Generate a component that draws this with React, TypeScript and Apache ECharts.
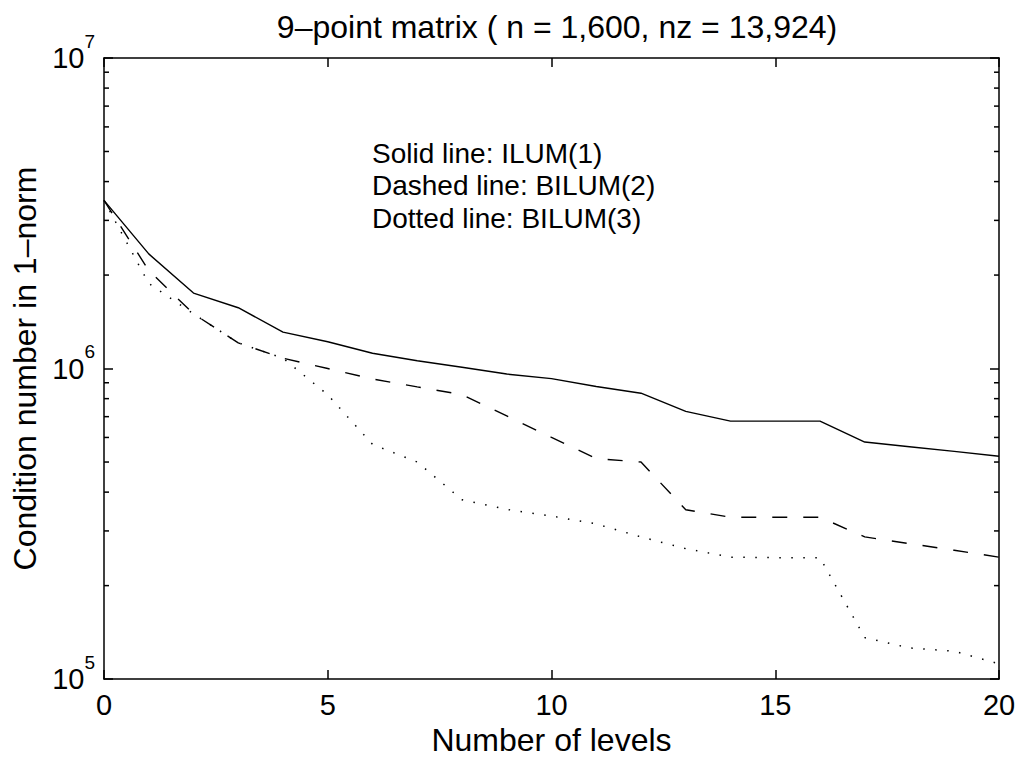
import React, { useEffect, useRef } from "react";
import * as echarts from "echarts";

const levels = [0, 1, 2, 3, 4, 5, 6, 7, 8, 9, 10, 11, 12, 13, 14, 15, 16, 17, 18, 19, 20];
const ilum1 = [3.48e6, 2.34e6, 1.75e6, 1.57e6, 1.31e6, 1.22e6, 1.12e6, 1.06e6, 1.01e6, 9.6e5, 9.28e5, 8.75e5, 8.33e5, 7.28e5, 6.77e5, 6.77e5, 6.77e5, 5.8e5, 5.6e5, 5.41e5, 5.22e5];
const bilum2 = [3.48e6, 2.07e6, 1.5e6, 1.21e6, 1.08e6, 1.0e6, 9.26e5, 8.73e5, 8.24e5, 7.04e5, 6.0e5, 5.13e5, 5.0e5, 3.51e5, 3.32e5, 3.32e5, 3.32e5, 2.87e5, 2.73e5, 2.6e5, 2.47e5];
const bilum3 = [3.48e6, 1.88e6, 1.5e6, 1.21e6, 1.08e6, 8.23e5, 5.7e5, 5.0e5, 3.78e5, 3.52e5, 3.35e5, 3.16e5, 2.87e5, 2.63e5, 2.47e5, 2.46e5, 2.46e5, 1.36e5, 1.26e5, 1.23e5, 1.12e5];
const minorTickValues = [2e5, 3e5, 4e5, 5e5, 6e5, 7e5, 8e5, 9e5, 2e6, 3e6, 4e6, 5e6, 6e6, 7e6, 8e6, 9e6];
const xMin = 0;
const xMax = 20;
const xInterval = 5;
const yMin = 1e5;
const yMax = 1e7;
const titleText = "9\u2013point matrix ( n = 1,600, nz = 13,924)";
const xName = "Number of levels";
const yName = "Condition number in 1\u2013norm";
const notes = ["Solid line: ILUM(1)", "Dashed line: BILUM(2)", "Dotted line: BILUM(3)"];

const FONT = "'Liberation Sans', Arial, Helvetica, sans-serif";
const FS_TICK = 29;
const FS_LABEL = 32;
const FS_NOTE = 28;

export default function App() {
  const ref = useRef<HTMLDivElement>(null);
  useEffect(() => {
    if (!ref.current) return;
    const chart = echarts.init(ref.current, null, { renderer: "svg" });
    const axisLine = { show: true, onZero: false, lineStyle: { color: "#000", width: 1.5 } };
    const tick = { show: true, inside: true, length: 9, lineStyle: { color: "#000", width: 1.5 } };
    const option: any = {
      animation: false,
      backgroundColor: "#fff",
      textStyle: { fontFamily: FONT, color: "#000" },
      title: {
        text: titleText,
        left: 552,
        top: 6,
        textAlign: "center",
        textStyle: { fontFamily: FONT, fontSize: FS_LABEL, fontWeight: "normal", color: "#000" },
      },
      grid: { left: 104, right: 21, top: 58, bottom: 75, show: false },
      xAxis: [
        {
          type: "value",
          position: "bottom",
          min: xMin,
          max: xMax,
          interval: xInterval,
          axisLine,
          axisTick: tick,
          splitLine: { show: false },
          axisLabel: { color: "#000", fontSize: FS_TICK, fontFamily: FONT, margin: 11 },
          name: xName,
          nameLocation: "middle",
          nameGap: 39,
          nameTextStyle: { color: "#000", fontSize: FS_LABEL, fontFamily: FONT },
        },
        {
          type: "value",
          position: "top",
          min: xMin,
          max: xMax,
          interval: xInterval,
          axisLine,
          axisTick: tick,
          splitLine: { show: false },
          axisLabel: { show: false },
        },
      ],
      yAxis: [
        {
          type: "log",
          logBase: 10,
          position: "left",
          min: yMin,
          max: yMax,
          axisLine,
          axisTick: tick,
          splitLine: { show: false },
          axisLabel: {
            color: "#000",
            margin: 9,
            formatter: (v: number) => `{b|10}{s|${Math.round(Math.log10(v))}}`,
            rich: {
              b: { fontSize: FS_TICK, fontFamily: FONT, color: "#000" },
              s: { fontSize: 19, fontFamily: FONT, color: "#000", padding: [0, 0, 34, 0] },
            },
          },
          name: yName,
          nameLocation: "middle",
          nameRotate: 90,
          nameGap: 60,
          nameTextStyle: { color: "#000", fontSize: FS_LABEL, fontFamily: FONT },
        },
        {
          type: "log",
          logBase: 10,
          position: "right",
          min: yMin,
          max: yMax,
          axisLine,
          axisTick: tick,
          splitLine: { show: false },
          axisLabel: { show: false },
        },
      ],
      graphic: notes.map((t, i) => ({
        type: "text",
        left: 372,
        top: 139 + i * 32.5,
        style: { text: t, fontSize: FS_NOTE, fontFamily: FONT, fill: "#000" },
      })),
      series: [
        {
          type: "line",
          name: "ILUM(1)",
          data: levels.map((l, i) => [l, ilum1[i]]),
          showSymbol: false,
          lineStyle: { color: "#000", width: 1.4, type: "solid" },
        },
        {
          type: "line",
          name: "BILUM(2)",
          data: levels.map((l, i) => [l, bilum2[i]]),
          showSymbol: false,
          lineStyle: { color: "#000", width: 1.4, type: [15, 16] },
        },
        {
          type: "line",
          name: "BILUM(3)",
          data: levels.map((l, i) => [l, bilum3[i]]),
          showSymbol: false,
          lineStyle: { color: "#000", width: 1.5, type: [1.5, 10.5] },
        },
        {
          type: "custom",
          name: "minorTicks",
          silent: true,
          clip: false,
          data: minorTickValues.map((v) => [xMin, v]),
          renderItem: (params: any, api: any) => {
            const v = api.value(1);
            const pl = api.coord([xMin, v]);
            const pr = api.coord([xMax, v]);
            return {
              type: "group",
              children: [
                { type: "line", shape: { x1: pl[0], y1: pl[1], x2: pl[0] + 5, y2: pl[1] }, style: { stroke: "#000", lineWidth: 1.5 } },
                { type: "line", shape: { x1: pr[0], y1: pr[1], x2: pr[0] - 5, y2: pr[1] }, style: { stroke: "#000", lineWidth: 1.5 } },
              ],
            };
          },
        },
      ],
    };
    chart.setOption(option);
    return () => chart.dispose();
  }, []);
  return (
    <div
      ref={ref}
      style={{ position: "fixed", left: 0, top: 0, width: 1020, height: 761, background: "#fff" }}
    />
  );
}
